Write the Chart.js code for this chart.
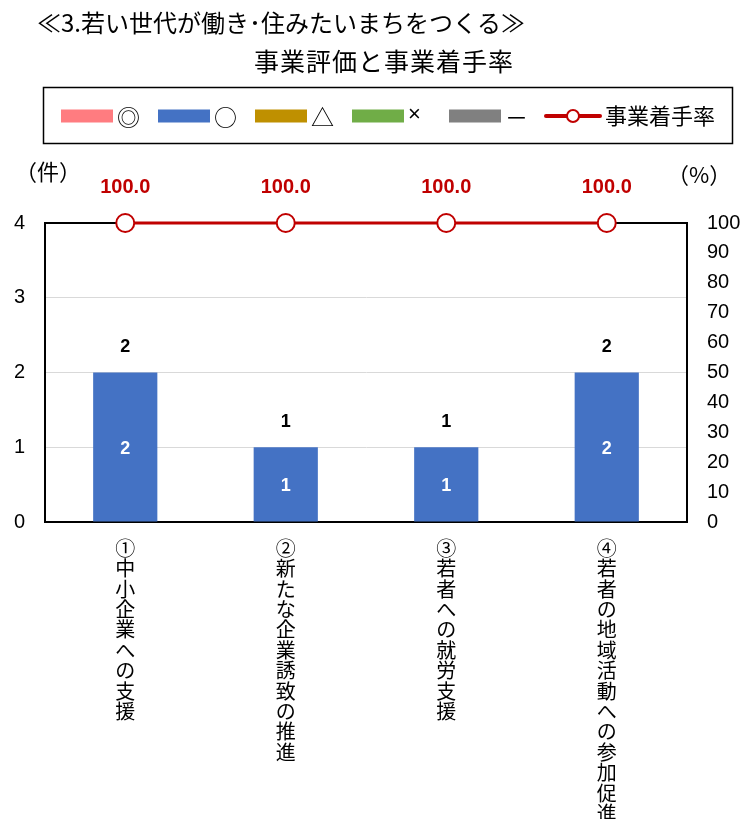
<!DOCTYPE html>
<html lang="ja">
<head>
<meta charset="utf-8">
<title>事業評価と事業着手率</title>
<script src="https://cdn.jsdelivr.net/npm/chart.js@4/dist/chart.umd.min.js"></script>
<style>
  html, body { margin: 0; padding: 0; background: #fff; }
  #wrap { width: 743px; height: 819px; }
</style>
</head>
<body>
<div id="wrap"><canvas id="myChart" width="743" height="819"></canvas></div>
<script>
// 施策ごとの件数（評価別）と事業着手率
const categories = [
  "①中小企業への支援",
  "②新たな企業誘致の推進",
  "③若者への就労支援",
  "④若者の地域活動への参加促進",
];
const evalNames = ["◎", "○", "△", "×", "－"];
const countDoubleCircle = [0, 0, 0, 0];
const countCircle = [2, 1, 1, 2];
const countTriangle = [0, 0, 0, 0];
const countCross = [0, 0, 0, 0];
const countDash = [0, 0, 0, 0];
const startRate = [100, 100, 100, 100];
const countTicks = [0, 1, 2, 3, 4];
const rateTicks = [0, 10, 20, 30, 40, 50, 60, 70, 80, 90, 100];

const jpFont = "'Noto Sans CJK JP', 'Noto Sans', sans-serif";
const numFont = "'Liberation Sans', Arial, sans-serif";
const red = "#C00000";

// 縦書きラベル：1文字ずつ改行
const verticalLabels = categories.map((c) => Array.from(c));

function barSet(label, data, color) {
  return {
    label: label,
    data: data,
    backgroundColor: color,
    borderWidth: 0,
    stack: "eval",
    yAxisID: "y",
    order: 2,
  };
}

// タイトル・凡例・単位・数値ラベルを描くプラグイン
const textPlugin = {
  id: "textPlugin",
  afterDraw(chart) {
    const ctx = chart.ctx;
    ctx.save();
    ctx.fillStyle = "#000";
    ctx.textBaseline = "middle";

    // タイトル
    ctx.font = "24px " + jpFont;
    ctx.textAlign = "left";
    ctx.fillText("≪3.若い世代が働き･住みたいまちをつくる≫", 37, 23);
    ctx.font = "25px " + jpFont;
    ctx.textAlign = "center";
    ctx.letterSpacing = "1px";
    ctx.fillText("事業評価と事業着手率", 384, 61);
    ctx.letterSpacing = "0px";

    // 凡例
    ctx.strokeStyle = "#000";
    ctx.lineWidth = 1.5;
    ctx.strokeRect(43.5, 87.5, 689, 56);
    const legendY = 116;
    chart.data.datasets.forEach((ds, i) => {
      const x = 61 + i * 97;
      ctx.textAlign = "left";
      if (ds.type === "line") {
        ctx.strokeStyle = ds.borderColor;
        ctx.lineWidth = 4;
        ctx.lineCap = "round";
        ctx.beginPath();
        ctx.moveTo(x, legendY);
        ctx.lineTo(x + 54, legendY);
        ctx.stroke();
        ctx.beginPath();
        ctx.arc(x + 27, legendY, 6, 0, Math.PI * 2);
        ctx.fillStyle = "#fff";
        ctx.fill();
        ctx.lineWidth = 2;
        ctx.stroke();
        ctx.fillStyle = "#000";
        ctx.font = "22px " + jpFont;
        ctx.fillText(ds.label, x + 59, legendY);
      } else {
        ctx.fillStyle = ds.backgroundColor;
        ctx.fillRect(x, legendY - 6.5, 52, 13);
        ctx.fillStyle = "#000";
        // ×だけは欧文フォントの小さい字形
        ctx.font = ds.label === "×" ? "22px " + numFont : "23px " + jpFont;
        ctx.fillText(ds.label, x + 56, legendY + (ds.label === "×" ? -1 : 1));
      }
    });

    // 軸の単位
    ctx.font = "22px " + jpFont;
    ctx.textAlign = "left";
    ctx.fillText("（件）", 15, 172);
    ctx.fillText("（%）", 667, 175);

    // 件数ラベル
    const yScale = chart.scales.y;
    const nBars = chart.data.datasets.filter((d) => d.type !== "line").length;
    chart.data.datasets.forEach((ds, di) => {
      if (ds.type === "line") return;
      const meta = chart.getDatasetMeta(di);
      meta.data.forEach((bar, i) => {
        if (!ds.data[i]) return;
        ctx.fillStyle = "#fff";
        ctx.font = "bold 18px " + numFont;
        ctx.textAlign = "center";
        ctx.fillText(String(ds.data[i]), bar.x, (bar.y + bar.base) / 2 + 2);
      });
    });
    categories.forEach((c, i) => {
      let total = 0;
      for (let d = 0; d < nBars; d++) total += chart.data.datasets[d].data[i];
      const x = chart.getDatasetMeta(1).data[i].x;
      ctx.fillStyle = "#000";
      ctx.font = "bold 18px " + numFont;
      ctx.textAlign = "center";
      ctx.fillText(String(total), x, yScale.getPixelForValue(total) - 25);
    });

    // 着手率ラベル
    const lineIndex = chart.data.datasets.findIndex((d) => d.type === "line");
    const lineMeta = chart.getDatasetMeta(lineIndex);
    lineMeta.data.forEach((pt, i) => {
      ctx.fillStyle = red;
      ctx.font = "bold 20px " + numFont;
      ctx.textAlign = "center";
      ctx.fillText(startRate[i].toFixed(1), pt.x, pt.y - 36);
    });
    ctx.restore();
  },
};

new Chart(document.getElementById("myChart"), {
  type: "bar",
  data: {
    labels: verticalLabels,
    datasets: [
      barSet(evalNames[0], countDoubleCircle, "#FF7C80"),
      barSet(evalNames[1], countCircle, "#4472C4"),
      barSet(evalNames[2], countTriangle, "#BF9000"),
      barSet(evalNames[3], countCross, "#70AD47"),
      barSet(evalNames[4], countDash, "#808080"),
      {
        type: "line",
        label: "事業着手率",
        data: startRate,
        yAxisID: "y1",
        borderColor: red,
        borderWidth: 3,
        pointRadius: 9,
        pointBorderWidth: 2,
        pointBackgroundColor: "#fff",
        pointBorderColor: red,
        clip: false,
        order: 0,
      },
    ],
  },
  options: {
    responsive: false,
    animation: false,
    categoryPercentage: 0.4,
    barPercentage: 1,
    layout: { padding: { top: 223, left: 0, right: 0, bottom: 0 } },
    plugins: {
      legend: { display: false },
      title: { display: false },
      tooltip: { enabled: false },
    },
    scales: {
      x: {
        stacked: true,
        grid: { display: false },
        border: { color: "#000", width: 2 },
        ticks: {
          autoSkip: false,
          maxRotation: 0,
          minRotation: 0,
          padding: 8,
          color: "#000",
          font: { family: jpFont, size: 20, lineHeight: 1.02 },
        },
        afterFit(scale) {
          scale.height = 297;
        },
      },
      y: {
        stacked: true,
        position: "left",
        min: 0,
        max: 4,
        afterBuildTicks(scale) {
          scale.ticks = countTicks.map((v) => ({ value: v }));
        },
        grid: {
          drawTicks: false,
          color: (c) => (c.tick.value === 4 || c.tick.value === 0 ? "#000" : "#D9D9D9"),
          lineWidth: (c) => (c.tick.value === 4 ? 2 : 1),
        },
        border: { color: "#000", width: 2 },
        ticks: {
          padding: 20,
          color: "#000",
          font: { family: numFont, size: 20 },
        },
        afterFit(scale) {
          scale.width = 45;
        },
      },
      y1: {
        position: "right",
        min: 0,
        max: 100,
        afterBuildTicks(scale) {
          scale.ticks = rateTicks.map((v) => ({ value: v }));
        },
        grid: { display: false, drawTicks: false },
        border: { color: "#000", width: 2 },
        ticks: {
          padding: 20,
          color: "#000",
          font: { family: numFont, size: 20 },
        },
        afterFit(scale) {
          scale.width = 56;
        },
      },
    },
  },
  plugins: [textPlugin],
});
</script>
</body>
</html>
